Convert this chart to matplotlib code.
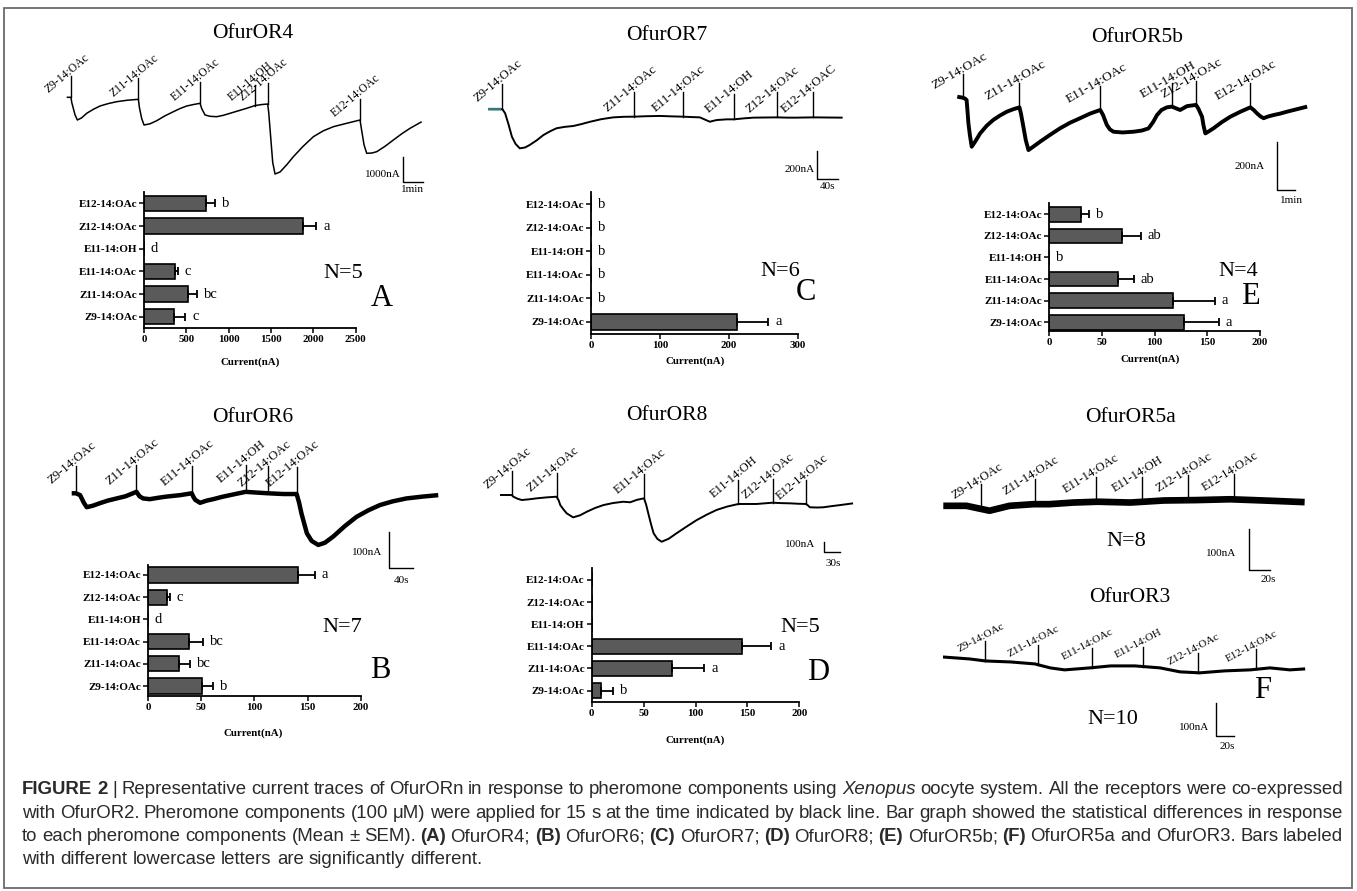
import numpy as np
import matplotlib
matplotlib.use("Agg")
import matplotlib.pyplot as plt
from matplotlib.transforms import IdentityTransform
from matplotlib.patches import Rectangle

W, H = 1357, 891
SERIF = ["Liberation Serif", "DejaVu Serif"]
SANS = ["Liberation Sans", "DejaVu Sans"]
plt.rcParams["font.family"] = SERIF

# ---------------- data ----------------
compounds = ["Z9-14:OAc", "Z11-14:OAc", "E11-14:OAc", "E11-14:OH", "Z12-14:OAc", "E12-14:OAc"]
stim_labels = ["Z9-14:OAc", "Z11-14:OAc", "E11-14:OAc", "E11-14:OH", "Z12-14:OAc", "E12-14:OAc"]
stim_labels_or7 = ["Z9-14:OAc", "Z11-14:OAc", "E11-14:OAc", "E11-14:OH", "Z12-14:OAc", "E12-14:OAC"]

# bar graphs (order bottom->top: Z9, Z11, E11-OAc, E11-OH, Z12, E12), current in nA
or4_mean = [350, 520, 370, 0, 1880, 730]
or4_sem = [140, 110, 30, 0, 155, 110]
or4_let = ["c", "bc", "c", "d", "a", "b"]

or7_mean = [212, 0, 0, 0, 0, 0]
or7_sem = [45, 0, 0, 0, 0, 0]
or7_let = ["a", "b", "b", "b", "b", "b"]

or5b_mean = [128, 117, 65, 0, 69, 30]
or5b_sem = [33, 40, 15, 0, 18, 8]
or5b_let = ["a", "a", "ab", "b", "ab", "b"]

or6_mean = [51, 29.5, 38.5, 0, 18, 141]
or6_sem = [10, 10, 13, 0, 2.5, 16]
or6_let = ["b", "bc", "bc", "d", "c", "a"]

or8_mean = [8.7, 77, 145, 0, 0, 0]
or8_sem = [12, 31.5, 28, 0, 0, 0]
or8_let = ["b", "a", "a", "", "", ""]

# current traces: time (s), current (nA); stimulus times (s)
or4_t = [0, 13, 15, 25, 32, 45, 60, 80, 100, 125, 150, 180, 215, 218, 225, 232, 250, 270, 295, 320, 340, 360,
         380, 400, 405, 415, 430, 450, 470, 490, 515, 540, 565, 585, 603, 606, 612, 618, 625, 640, 660, 680, 710,
         740, 770, 800, 840, 880, 884, 892, 900, 915, 930, 955, 980, 1005, 1030, 1050, 1065]
or4_i = [0, 0, -200, -700, -908, -820, -640, -480, -348, -250, -176, -120, -80, -400, -850, -1108, -1060, -936,
         -740, -576, -450, -348, -290, -240, -450, -708, -760, -776, -720, -640, -540, -440, -330, -290, -268,
         -600, -1600, -2600, -3068, -2988, -2700, -2376, -1950, -1576, -1340, -1176, -1040, -908, -1250, -1900,
         -2240, -2230, -2176, -1960, -1708, -1460, -1240, -1090, -976]
or4_stim = [13, 215, 400, 565, 603, 880]

or7_t = [0, 27, 32, 38, 45, 52, 60, 70, 79, 92, 105, 118, 130, 146, 162, 178, 194, 215, 238, 258, 278, 300, 327,
         350, 370, 388, 403, 414, 422, 428, 435, 454, 468, 487, 505, 528, 550, 570, 587, 603, 619, 645, 675]
or7_i = [0, 0, -28, -100, -194, -245, -276, -270, -252, -220, -182, -155, -134, -124, -118, -104, -88, -70, -57,
         -53, -52, -49, -47, -50, -52, -55, -57, -75, -88, -82, -76, -71, -71, -64, -59, -58, -57, -59, -59, -58,
         -57, -58, -59]
or7_stim = [27, 278, 370, 468, 550, 619]

or5b_t = [0, 8, 15, 20, 26, 31, 34, 37, 42, 48, 60, 76, 98, 120, 142, 165, 186, 207, 212, 220, 228, 237, 255,
          276, 310, 342, 375, 409, 442, 476, 485, 498, 508, 520, 550, 587, 615, 637, 652, 665, 680, 698, 715, 728,
          742, 755, 765, 795, 803, 815, 820, 826, 838, 853, 880, 909, 943, 976, 987, 998, 1010, 1020, 1035, 1053,
          1075, 1098, 1130, 1165]
or5b_i = [0, -2, -3, -5, -8, -14, -60, -110, -160, -207, -185, -152, -120, -96, -78, -62, -52, -44, -70, -124,
          -180, -221, -205, -186, -157, -131, -108, -89, -70, -55, -75, -117, -135, -145, -148, -145, -140, -131,
          -105, -76, -55, -44, -41, -48, -55, -46, -39, -34, -50, -83, -120, -152, -143, -131, -106, -83, -62, -44,
          -55, -69, -82, -89, -82, -76, -70, -62, -52, -41]
or5b_stim = [20, 207, 476, 715, 795, 976]

or6_t = [0, 7, 14, 20, 25, 35, 47, 60, 75, 90, 108, 113, 119, 130, 145, 158, 181, 200, 203, 206, 214, 225, 236,
         250, 264, 290, 308, 328, 353, 375, 379, 383, 388, 392, 400, 411, 422, 436, 455, 475, 495, 514, 535, 558,
         585, 611]
or6_i = [0, 0, -5, -25, -38, -34, -27, -20, -14, -8, 4, -8, -14, -16, -12, -9, -5, 0, -10, -18, -26, -20, -16,
         -10, -5, 4, 2, 0, -2, -2, -25, -55, -85, -109, -130, -141, -135, -118, -90, -64, -46, -32, -22, -14, -9, -5]
or6_stim = [7, 108, 200, 290, 328, 375]

or8_t = [0, 22, 25, 33, 41, 55, 69, 88, 106, 110, 113, 119, 125, 137, 150, 163, 178, 194, 212, 231, 244, 257,
         270, 274, 278, 283, 288, 295, 303, 316, 331, 350, 369, 388, 406, 426, 447, 465, 481, 496, 511, 528, 544,
         560, 574, 578, 581, 595, 606, 622, 638, 662]
or8_i = [0, 0, -16, -35, -47, -40, -31, -22, -16, -50, -94, -135, -171, -209, -190, -156, -122, -94, -75, -63,
         -68, -45, -31, -90, -171, -270, -358, -410, -437, -410, -358, -295, -234, -183, -140, -108, -84, -84, -84,
         -78, -72, -76, -78, -82, -84, -100, -115, -117, -115, -104, -94, -78]
or8_stim = [22, 106, 270, 447, 511, 574]

or5a_t = [0, 22, 44, 63, 86, 101, 124, 147, 178, 210, 241, 273, 305, 344]
or5a_i = [-2, -2, -14, -2, 2, 2, 6, 8, 6, 11, 12, 14, 11, 7]
or5a_stim = [36, 87, 145, 189, 233, 277]

or3_t = [0, 30, 47, 75, 102, 119, 135, 163, 186, 213, 241, 263, 285, 313, 341, 363, 385, 402]
or3_i = [0, -6, -12, -15, -21, -33, -39, -33, -27, -27, -33, -45, -48, -42, -39, -33, -39, -36]
or3_stim = [47, 105, 165, 222, 283, 347]

# ---------------- figure ----------------
fig = plt.figure(figsize=(W / 100, H / 100), dpi=100)


def px_axes(x0, y0, x1, y1, z=1):
    return fig.add_axes([x0 / W, 1 - y1 / H, (x1 - x0) / W, (y1 - y0) / H], zorder=z)


def ftext(x, y, s, **kw):
    kw.setdefault("ha", "center")
    kw.setdefault("va", "center")
    fig.text(x / W, 1 - y / H, s, **kw)


def bar_panel(box, ylim, xmax, xticks, means, sems, letters, xlab_xy, n_txt, n_xy, let_txt, let_xy):
    ax = px_axes(*box, z=3)
    ax.patch.set_visible(False)
    y = np.arange(len(compounds))
    means = np.asarray(means, float)
    sems = np.asarray(sems, float)
    ax.barh(y, means, height=0.68, color="#5a5a5a", edgecolor="black", linewidth=1.2, zorder=2)
    m = sems > 0
    ax.errorbar(means[m], y[m], xerr=[np.zeros(m.sum()), sems[m]], fmt="none", ecolor="black",
                elinewidth=1.3, capsize=3.2, capthick=1.3, zorder=3)
    for yi, mv, sv, lt in zip(y, means, sems, letters):
        if lt:
            ax.annotate(lt, (mv + sv, yi), xytext=(5, 0), textcoords="offset points", ha="left",
                        va="center", fontsize=10.5, family=SERIF)
    ax.set_xlim(0, xmax)
    ax.set_ylim(*ylim)
    ax.set_xticks(xticks)
    ax.set_xticklabels([str(v) for v in xticks], fontsize=7.8, fontweight="bold")
    ax.set_yticks(y)
    ax.set_yticklabels(compounds, fontsize=8, fontweight="bold")
    for s in ("top", "right"):
        ax.spines[s].set_visible(False)
    for s in ("left", "bottom"):
        ax.spines[s].set_linewidth(1.3)
    ax.tick_params(axis="both", direction="out", length=3.5, width=1.1, pad=1.5)
    ftext(*xlab_xy, "Current(nA)", fontsize=7.8, fontweight="bold")
    ftext(*n_xy, n_txt, fontsize=16)
    ftext(*let_xy, let_txt, fontsize=22)
    return ax


def trace_panel(box, origin, scale, t, cur, stims, labels, stim_px, rot, lab_fs, lw, sb, title, title_xy,
                stub=None):
    x0, y0, x1, y1 = box
    xs, ys = origin
    spp, npp = scale
    ax = px_axes(*box, z=1)
    ax.set_xlim((x0 - xs) * spp, (x1 - xs) * spp)
    ax.set_ylim(-(y1 - ys) * npp, -(y0 - ys) * npp)
    ax.axis("off")
    ax.plot(t, cur, color="black", lw=lw, solid_joinstyle="round", solid_capstyle="butt")
    if stub is not None:
        ax.plot(stub[0], stub[1], color="#2e7d7d", lw=lw + 0.3, solid_capstyle="butt")
    base = np.interp(stims, t, cur)
    slen = stim_px * npp
    for s, b, lab in zip(stims, base, labels):
        ax.plot([s, s], [b, b + slen], color="black", lw=1.0)
        ax.annotate(lab, (s, b + slen), xytext=(-3, 2.2), textcoords="offset points", rotation=rot,
                    rotation_mode="anchor", ha="center", va="center", fontsize=lab_fs)
    bx, bt, bb, bxe, vtxt, vxy, htxt, hxy = sb
    ax.plot([bx, bx, bxe], [bt, bb, bb], color="black", lw=1.0)
    ax.text(*vxy, vtxt, ha="right", va="center", fontsize=8)
    ax.text(*hxy, htxt, ha="center", va="center", fontsize=8)
    ftext(*title_xy, title, fontsize=15.5)
    return ax


# ---- traces ----
trace_panel((50, 60, 440, 200), (66.7, 97.3), (3.0, 40.0), or4_t, or4_i, or4_stim, stim_labels, 21, 40, 8.4,
            1.1, (1010, -2400, -3400, 1070, "1000nA", (1003, -3070), "1min", (1038, -3668)),
            "OfurOR4", (253, 33))
trace_panel((480, 60, 860, 200), (488.3, 109.3), (1.905, 7.07), or7_t, or7_i, or7_stim, stim_labels_or7, 25,
            40, 9.2, 1.4, (627, -293, -493, 667, "200nA", (622, -424), "40s", (647, -549)),
            "OfurOR7", (667, 36), stub=([0, 24], [0, 0]))
trace_panel((940, 60, 1320, 205), (957.3, 96.7), (3.33, 4.14), or5b_t, or5b_i, or5b_stim, stim_labels, 24, 30,
            9.6, 2.8, (1064, -186, -386, 1124, "200nA", (1025, -291), "1min", (1112, -428)),
            "OfurOR5b", (1137, 37))
trace_panel((55, 450, 450, 590), (71.7, 493.3), (1.667, 2.73), or6_t, or6_i, or6_stim, stim_labels, 27, 40,
            9.2, 3.2, (529, -105, -205, 569, "100nA", (517, -162), "40s", (550, -237)),
            "OfurOR6", (253, 417))
trace_panel((490, 450, 870, 570), (500, 495), (1.875, 9.35), or8_t, or8_i, or8_stim, stim_labels, 24, 40,
            9.0, 1.4, (608, -437, -537, 638, "100nA", (591, -461), "30s", (624, -639)),
            "OfurOR8", (667, 416))
trace_panel((930, 460, 1320, 590), (943.3, 505), (0.952, 2.44), or5a_t, or5a_i, or5a_stim, stim_labels, 25, 32,
            9.0, 4.8, (291, -59, -159, 311, "100nA", (279, -118), "20s", (309, -183)),
            "OfurOR5a", (1131, 417))
trace_panel((930, 620, 1320, 760), (943, 657), (1.11, 3.03), or3_t, or3_i, or3_stim, stim_labels, 20, 28,
            8.0, 2.2, (303, -139, -239, 323, "100nA", (296, -215), "20s", (315, -270)),
            "OfurOR3", (1130, 598))
ftext(1126, 541, "N=8", fontsize=16)
ftext(1113, 720, "N=10", fontsize=16)
ftext(1263, 690, "F", fontsize=22)

# ---- bar graphs ----
bar_panel((144, 192, 355.7, 328), (-0.5, 5.5), 2500, [0, 500, 1000, 1500, 2000, 2500], or4_mean, or4_sem,
          or4_let, (250, 362), "N=5", (343, 273), "A", (382, 298))
bar_panel((591, 192, 797.7, 334), (-0.52, 5.52), 300, [0, 100, 200, 300], or7_mean, or7_sem, or7_let,
          (695, 361), "N=6", (780, 272), "C", (806, 293))
bar_panel((1049.3, 203, 1260, 331), (-0.4, 5.52), 200, [0, 50, 100, 150, 200], or5b_mean, or5b_sem,
          or5b_let, (1150, 359), "N=4", (1238, 272), "E", (1250, 297))
bar_panel((148, 565, 360.7, 696), (-0.45, 5.45), 200, [0, 50, 100, 150, 200], or6_mean, or6_sem, or6_let,
          (253, 733), "N=7", (342, 627), "B", (380, 670))
bar_panel((591.7, 568, 799.3, 701.7), (-0.5, 5.54), 200, [0, 50, 100, 150, 200], or8_mean, or8_sem,
          or8_let, (695, 740), "N=5", (800, 627), "D", (818, 673))

# ---- border ----
fig.patches.append(Rectangle((4 / W, 1 - 888 / H), (1352 - 4) / W, (888 - 8) / H, transform=fig.transFigure,
                             fill=False, edgecolor="#6a6a6a", lw=1.3))

# ---- caption ----
caption = [
    [("FIGURE 2", "b"), ("|", "n"), ("Representative current traces of OfurORn in response to pheromone "
                                     "components using", "n"), ("Xenopus", "i"),
     ("oocyte system. All the receptors were co-expressed", "n")],
    [("with OfurOR2. Pheromone components (100 \u03bcM) were applied for 15 s at the time indicated by black "
      "line. Bar graph showed the statistical differences in response", "n")],
    [("to each pheromone components (Mean \u00b1 SEM).", "n"), ("(A)", "b"), ("OfurOR4;", "n"), ("(B)", "b"),
     ("OfurOR6;", "n"), ("(C)", "b"), ("OfurOR7;", "n"), ("(D)", "b"), ("OfurOR8;", "n"), ("(E)", "b"),
     ("OfurOR5b;", "n"), ("(F)", "b"), ("OfurOR5a and OfurOR3. Bars labeled", "n")],
    [("with different lowercase letters are significantly different.", "n")],
]
cap_base = [794, 818, 841, 864]
cap_just = [True, True, True, False]
CAP_FS = 13.4
CAP_COL = "#2a2a2a"
X0, X1 = 22, 1343

fig.canvas.draw()
rend = fig.canvas.get_renderer()


def mk(s, style, y):
    kw = dict(fontsize=CAP_FS, family=SANS, color=CAP_COL, transform=IdentityTransform(), va="baseline",
              ha="left")
    if style == "b":
        kw["fontweight"] = "bold"
    if style == "i":
        kw["fontstyle"] = "italic"
    return fig.text(0, y, s, **kw)


probe1 = mk("x x", "n", -100)
probe2 = mk("xx", "n", -100)
space_w = probe1.get_window_extent(rend).width - probe2.get_window_extent(rend).width
probe1.remove()
probe2.remove()

for line, yb, just in zip(caption, cap_base, cap_just):
    words = []
    for txt, st in line:
        for w in txt.split():
            words.append((w, st))
    objs = [mk(w, st, H - yb) for w, st in words]
    widths = [o.get_window_extent(rend).width for o in objs]
    gap = (X1 - X0 - sum(widths)) / (len(words) - 1) if just else space_w
    x = X0
    for o, wd in zip(objs, widths):
        o.set_x(x)
        x += wd + gap

fig.savefig("out.png", dpi=100)
